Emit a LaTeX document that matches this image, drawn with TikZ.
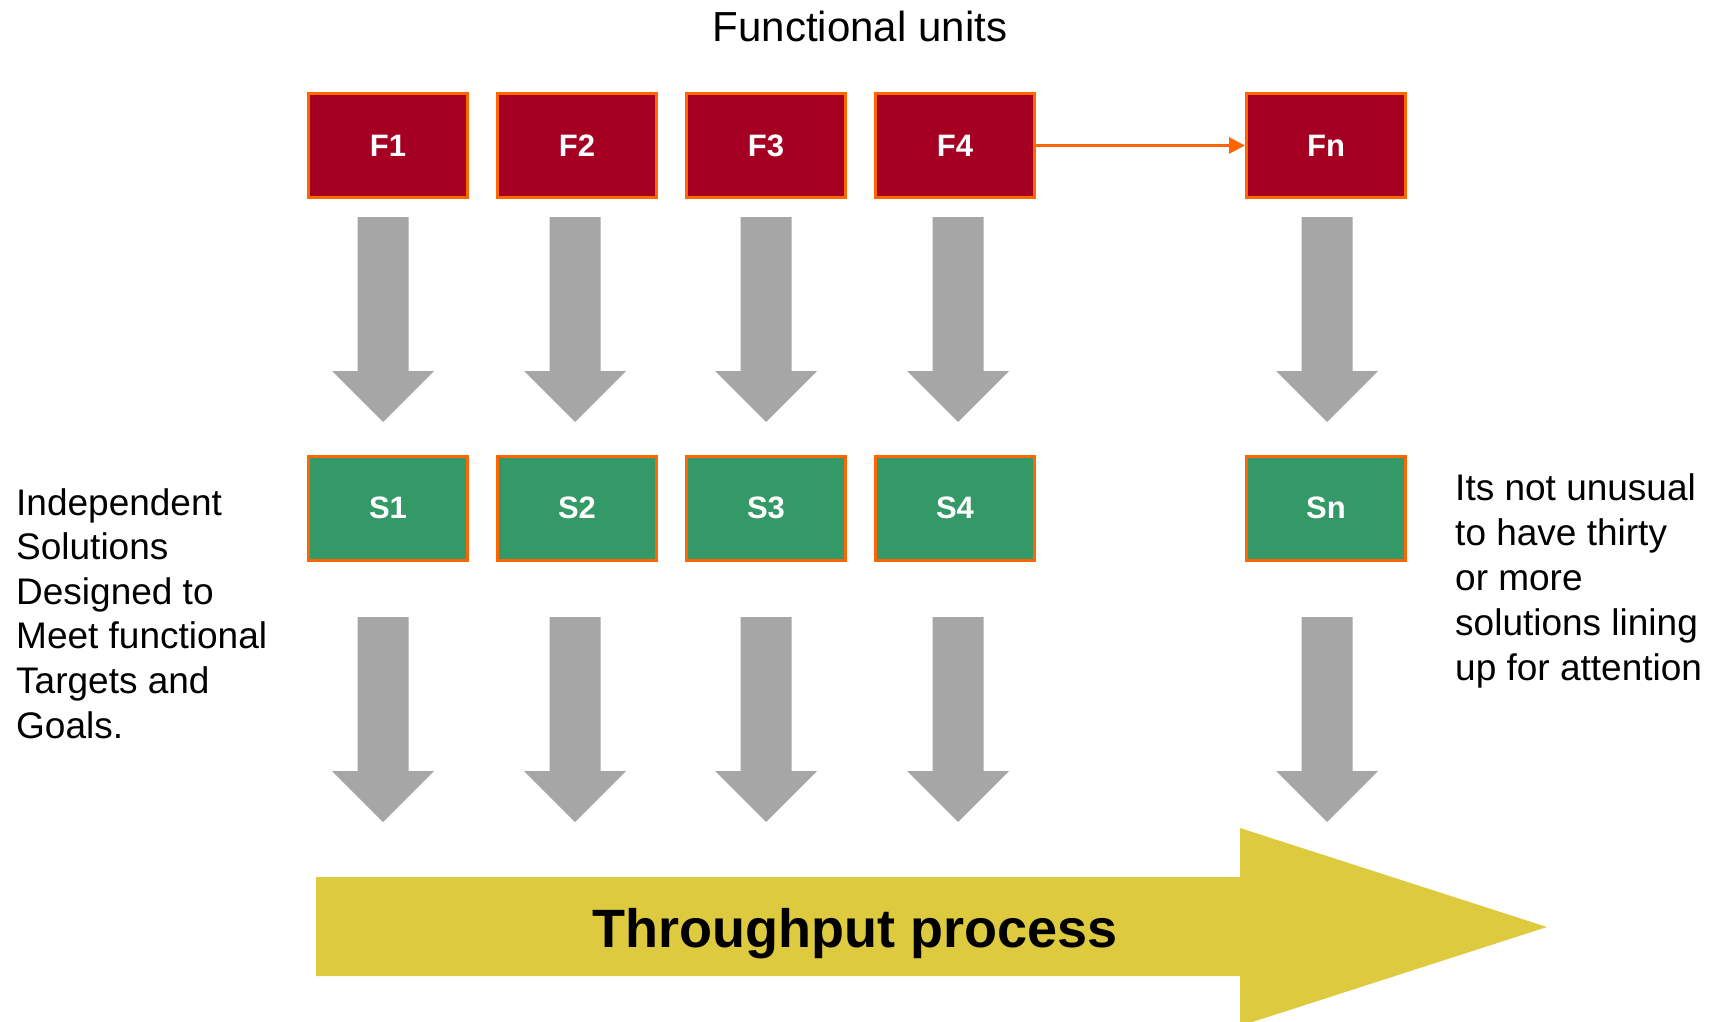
\documentclass[tikz,border=0pt]{standalone}
\usepackage{fontspec}
\setmainfont{Liberation Sans}
\usetikzlibrary{arrows.meta}
\definecolor{unitred}{HTML}{A50021}
\definecolor{edgeorange}{HTML}{FF6600}
\definecolor{solgreen}{HTML}{339966}
\definecolor{arrowgray}{HTML}{A6A6A6}
\definecolor{flowyellow}{HTML}{DDCA3F}
\begin{document}
\begin{tikzpicture}[x=1pt,y=-1pt,
  unitbox/.style={draw=edgeorange, line width=3pt, fill=unitred, minimum width=159pt,
    minimum height=104pt, inner sep=0pt, text=white, font=\fontsize{31}{36}\selectfont\bfseries},
  solbox/.style={unitbox, fill=solgreen},
  bodytext/.style={anchor=base west, inner sep=0pt, font=\fontsize{37}{44}\selectfont},
  downarrow/.pic={\fill[arrowgray] (-25.5,0) -- (25.5,0) -- (25.5,154) -- (51,154)
    -- (0,205) -- (-51,154) -- (-25.5,154) -- cycle;}]
  \useasboundingbox (0,0) rectangle (1717,1022);
  \clip (0,0) rectangle (1717,1022);

  % heading
  \node[anchor=base, inner sep=0pt, font=\fontsize{42}{48}\selectfont] (title) at (860,42) {Functional units};

  % functional units and their solutions
  \foreach \n/\x in {1/388,2/577,3/766,4/955,n/1326}{
    \node[unitbox] (F\n) at (\x,145.5) {\raisebox{-2pt}{F\n}};
    \node[solbox] (S\n) at (\x,508) {\raisebox{-2pt}{S\n}};
  }
  \draw[edgeorange, line width=3pt, -{Triangle[length=16pt,width=16pt]}] (F4) -- (Fn);

  % block arrows between the rows
  \foreach \x in {383,575,766,958,1327}{
    \pic at (\x,217) {downarrow};
    \pic at (\x,617) {downarrow};
  }

  % throughput arrow
  \fill[flowyellow] (316,877) -- (1240,877) -- (1240,828) -- (1547,927) -- (1240,1026)
    -- (1240,976) -- (316,976) -- cycle;
  \node[anchor=base, inner sep=0pt, font=\fontsize{54}{60}\selectfont\bfseries] (tp) at (855,947) {Throughput process};

  % side notes
  \foreach \t [count=\i] in {Independent, Solutions, Designed to, Meet functional, Targets and, Goals.}{
    \node[bodytext] (L\i) at (16,{515+44.6*(\i-1)}) {\t};
  }
  \foreach \t [count=\i] in {Its not unusual, to have thirty, or more, solutions lining, up for attention}{
    \node[bodytext] (R\i) at (1455,{500+45*(\i-1)}) {\t};
  }
\end{tikzpicture}
\end{document}
